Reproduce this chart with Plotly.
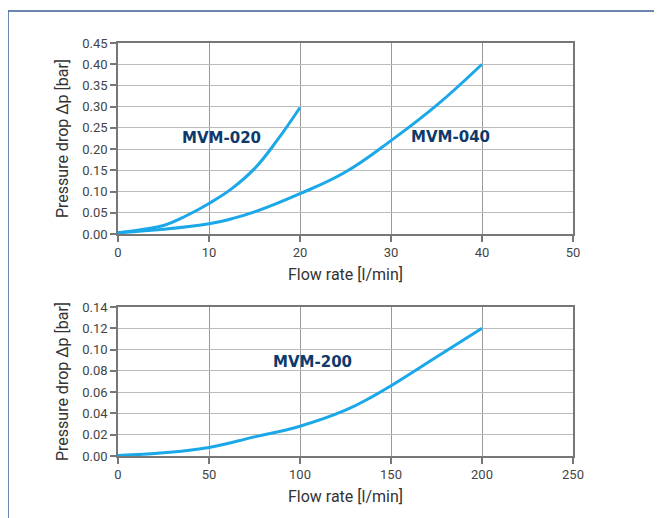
import plotly.graph_objects as go
from plotly.subplots import make_subplots

# MVM-020 / MVM-040 (top chart)
mvm020_flow = [0, 2.5, 5, 7.5, 10, 12.5, 15, 17.5, 20]
mvm020_dp = [0.003, 0.010, 0.020, 0.043, 0.072, 0.107, 0.154, 0.221, 0.298]
mvm040_flow = [0, 5, 10, 12.5, 15, 20, 25, 30, 35, 40]
mvm040_dp = [0.003, 0.011, 0.024, 0.036, 0.052, 0.095, 0.146, 0.220, 0.303, 0.400]
# MVM-200 (bottom chart)
mvm200_flow = [0, 25, 50, 75, 100, 125, 140, 150, 175, 200]
mvm200_dp = [0.0005, 0.003, 0.008, 0.018, 0.028, 0.043, 0.056, 0.066, 0.093, 0.120]

top_xticks = [0, 10, 20, 30, 40, 50]
top_yticks = [0, 0.05, 0.10, 0.15, 0.20, 0.25, 0.30, 0.35, 0.40, 0.45]
bot_xticks = [0, 50, 100, 150, 200, 250]
bot_yticks = [0, 0.02, 0.04, 0.06, 0.08, 0.10, 0.12, 0.14]

LINE = "#1aa8e8"
LABEL = "#0d3a6b"

fig = make_subplots(rows=2, cols=1)
fig.add_trace(go.Scatter(x=mvm020_flow, y=mvm020_dp, mode="lines", line=dict(color=LINE, width=3, shape="spline", smoothing=1.2)), row=1, col=1)
fig.add_trace(go.Scatter(x=mvm040_flow, y=mvm040_dp, mode="lines", line=dict(color=LINE, width=3, shape="spline", smoothing=1.2)), row=1, col=1)
fig.add_trace(go.Scatter(x=mvm200_flow, y=mvm200_dp, mode="lines", line=dict(color=LINE, width=3, shape="spline", smoothing=1.2)), row=2, col=1)

tickfont = dict(family="Roboto, Liberation Sans, sans-serif", size=13, color="#444")
titlefont = dict(family="Roboto, Liberation Sans, sans-serif", size=16, color="#333")

common_x = dict(showline=True, linecolor="#777", linewidth=1.5, mirror=True,
                showgrid=True, gridcolor="#999", gridwidth=1,
                ticks="outside", ticklen=6, tickcolor="#777", tickwidth=1.5,
                tickfont=tickfont, zeroline=False,
                title=dict(text="Flow rate [l/min]", font=titlefont, standoff=9))
common_y = dict(showline=True, linecolor="#777", linewidth=1.5, mirror=True,
                showgrid=True, gridcolor="#bbb", gridwidth=1,
                ticks="outside", ticklen=6, tickcolor="#777", tickwidth=1.5,
                tickfont=tickfont, zeroline=False, tickformat=".2f",
                title=dict(text="Pressure drop \u0394p [bar]", font=titlefont, standoff=10))

fig.update_xaxes(range=[0, 50], tickvals=top_xticks, domain=[0, 1], **common_x, row=1, col=1)
fig.update_yaxes(range=[0, 0.45], tickvals=top_yticks, domain=[0.5375, 1.0], **common_y, row=1, col=1)
fig.update_xaxes(range=[0, 250], tickvals=bot_xticks, domain=[0, 1], **common_x, row=2, col=1)
fig.update_yaxes(range=[0, 0.14], tickvals=bot_yticks, domain=[0, 0.3608], **common_y, row=2, col=1)

lblfont = dict(family="DejaVu Sans, sans-serif", size=15, color=LABEL)
fig.add_annotation(x=11.4, y=0.226, xref="x", yref="y", text="<b>MVM-020</b>", showarrow=False, font=lblfont)
fig.add_annotation(x=36.5, y=0.228, xref="x", yref="y", text="<b>MVM-040</b>", showarrow=False, font=lblfont)
fig.add_annotation(x=107, y=0.088, xref="x2", yref="y2", text="<b>MVM-200</b>", showarrow=False, font=lblfont)

fig.add_shape(type="rect", xref="paper", yref="paper",
              x0=-0.2418, x1=1.1802, y0=-0.2, y1=1.0775,
              line=dict(color="#3a5f95", width=1.5), fillcolor="rgba(0,0,0,0)", layer="below")

fig.update_layout(width=662, height=518, showlegend=False,
                  margin=dict(l=110, r=97, t=35, b=70),
                  paper_bgcolor="white", plot_bgcolor="white")

fig.write_html("out.html")
